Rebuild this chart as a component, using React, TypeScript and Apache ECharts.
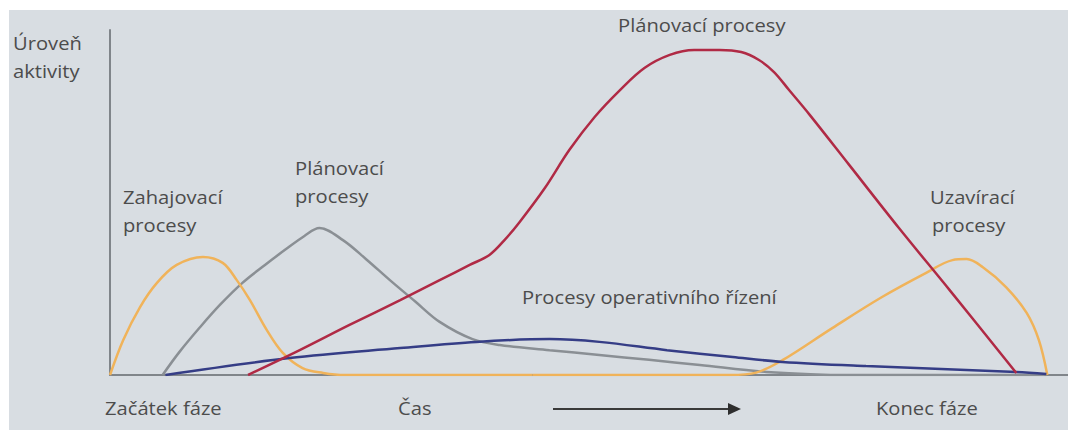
import React, { useEffect, useRef } from "react";
import * as echarts from "echarts";

// time (0..100) vs activity level (0..100)
const zahajovaci: [number, number][] = [
  [0, 0], [1.4, 10.1], [3.2, 19.7], [5.0, 26.7], [7.1, 31.9], [9.9, 34.2], [12.0, 32.5],
  [13.5, 27.5], [14.9, 21.7], [16.7, 13.0], [18.4, 6.4], [20.5, 2.0], [22.7, 0.6], [25, 0], [45, 0],
];
const uzaviraci: [number, number][] = [
  [45, 0], [66, 0], [68.8, 0.7], [71.6, 4.3], [76.9, 13.6], [82.2, 22.6], [86.9, 29.6], [89.7, 33.3],
  [91.2, 33.6], [92.9, 31.3], [95.4, 25.5], [97.6, 18.0], [98.9, 10.1], [99.8, 0],
];
const planovaciMaly: [number, number][] = [
  [5.6, 0], [7.4, 6.7], [9.6, 13.9], [11.7, 20.3], [14.1, 26.7], [16.5, 31.9], [18.6, 36.2], [20.7, 40.3],
  [22.3, 42.6], [24.8, 39.1], [27.3, 33.5], [29.8, 27.5], [32.5, 21.3], [35.1, 15.4], [38.6, 10.4],
  [41.5, 8.7], [46.8, 7.2], [52.1, 5.8], [57.4, 4.4], [62.8, 2.9], [69.9, 0.9], [78.7, 0], [99.7, 0],
];
const operativni: [number, number][] = [
  [5.9, 0], [19.1, 4.9], [30.9, 7.8], [39.0, 9.6], [46.8, 10.4], [52.1, 9.6], [59.3, 7.2],
  [66.3, 5.2], [71.6, 3.8], [80.5, 2.6], [96.5, 0.9], [99.7, 0.3],
];
const planovaciVelky: [number, number][] = [
  [14.7, 0], [20.2, 7.2], [25.5, 14.5], [30.9, 21.7], [35.1, 27.5], [38.3, 31.9], [40.4, 34.8],
  [42.0, 39.1], [43.6, 44.3], [46.3, 54.2], [48.9, 65.2], [51.6, 74.8], [54.3, 82.6], [56.9, 89.0], [59.6, 92.8],
  [62.2, 94.2], [64.9, 94.2], [67.2, 93.6], [69.1, 91.3], [70.7, 87.8], [72.3, 82.6], [74.5, 75.4],
  [78.7, 60.9], [84.0, 42.6], [89.4, 24.6], [96.5, 0.6],
];

const FONT = "'Open Sans', 'Noto Sans', sans-serif";
const TXT = "#4c4c4c";

const labels: { text: string; x: number; y: number }[] = [
  { text: "Úroveň", x: 13, y: 43 },
  { text: "aktivity", x: 13, y: 71 },
  { text: "Plánovací procesy", x: 618, y: 25 },
  { text: "Plánovací", x: 295, y: 168 },
  { text: "procesy", x: 295, y: 196 },
  { text: "Zahajovací", x: 123, y: 197 },
  { text: "procesy", x: 123, y: 225 },
  { text: "Uzavírací", x: 930, y: 197 },
  { text: "procesy", x: 932, y: 225 },
  { text: "Procesy operativního řízení", x: 522, y: 297 },
  { text: "Začátek fáze", x: 105, y: 408 },
  { text: "Čas", x: 398, y: 408 },
  { text: "Konec fáze", x: 876, y: 408 },
];

export default function App() {
  const ref = useRef<HTMLDivElement>(null);
  useEffect(() => {
    if (!ref.current) return;
    const chart = echarts.init(ref.current, undefined, { renderer: "svg" });
    const line = (name: string, data: [number, number][], color: string, z = 2) => ({
      type: "line",
      name,
      data,
      smooth: 0.35,
      symbol: "none",
      z,
      lineStyle: { color, width: 2.5 },
    });
    chart.setOption({
      animation: false,
      backgroundColor: "#ffffff",
      grid: { left: 110, right: 0, top: 30, bottom: 55 },
      xAxis: {
        type: "value", min: 0, max: 102,
        axisLine: { show: true, lineStyle: { color: "#80858a", width: 2 } },
        axisTick: { show: false }, axisLabel: { show: false }, splitLine: { show: false },
      },
      yAxis: {
        type: "value", min: 0, max: 100,
        axisLine: { show: true, lineStyle: { color: "#80858a", width: 2 } },
        axisTick: { show: false }, axisLabel: { show: false }, splitLine: { show: false },
      },
      graphic: [
        { type: "rect", z: -10, silent: true, shape: { x: 9, y: 10, width: 1059, height: 420 }, style: { fill: "#d8dde2" } },
        ...labels.map((l) => ({
          type: "text", x: l.x, y: l.y, z: 10, scaleX: 1.12,
          style: { text: l.text, fill: TXT, font: `18px ${FONT}`, textVerticalAlign: "middle", textAlign: "left" },
        })),
        { type: "line", z: 10, shape: { x1: 553, y1: 409, x2: 730, y2: 409 }, style: { stroke: "#3a3a3a", lineWidth: 2 } },
        { type: "polygon", z: 10, shape: { points: [[728, 403], [741, 409], [728, 415]] }, style: { fill: "#2e2e2e" } },
      ],
      series: [
        line("Zahajovací procesy", zahajovaci, "#f0b35a", 3),
        line("Uzavírací procesy", uzaviraci, "#f0b35a", 3),
        line("Plánovací procesy (malé)", planovaciMaly, "#8a8f94", 2),
        line("Procesy operativního řízení", operativni, "#353d86", 4),
        line("Plánovací procesy", planovaciVelky, "#b02a45", 5),
      ],
    });
    return () => chart.dispose();
  }, []);
  return <div ref={ref} style={{ position: "fixed", left: 0, top: 0, width: 1068, height: 430 }} />;
}
